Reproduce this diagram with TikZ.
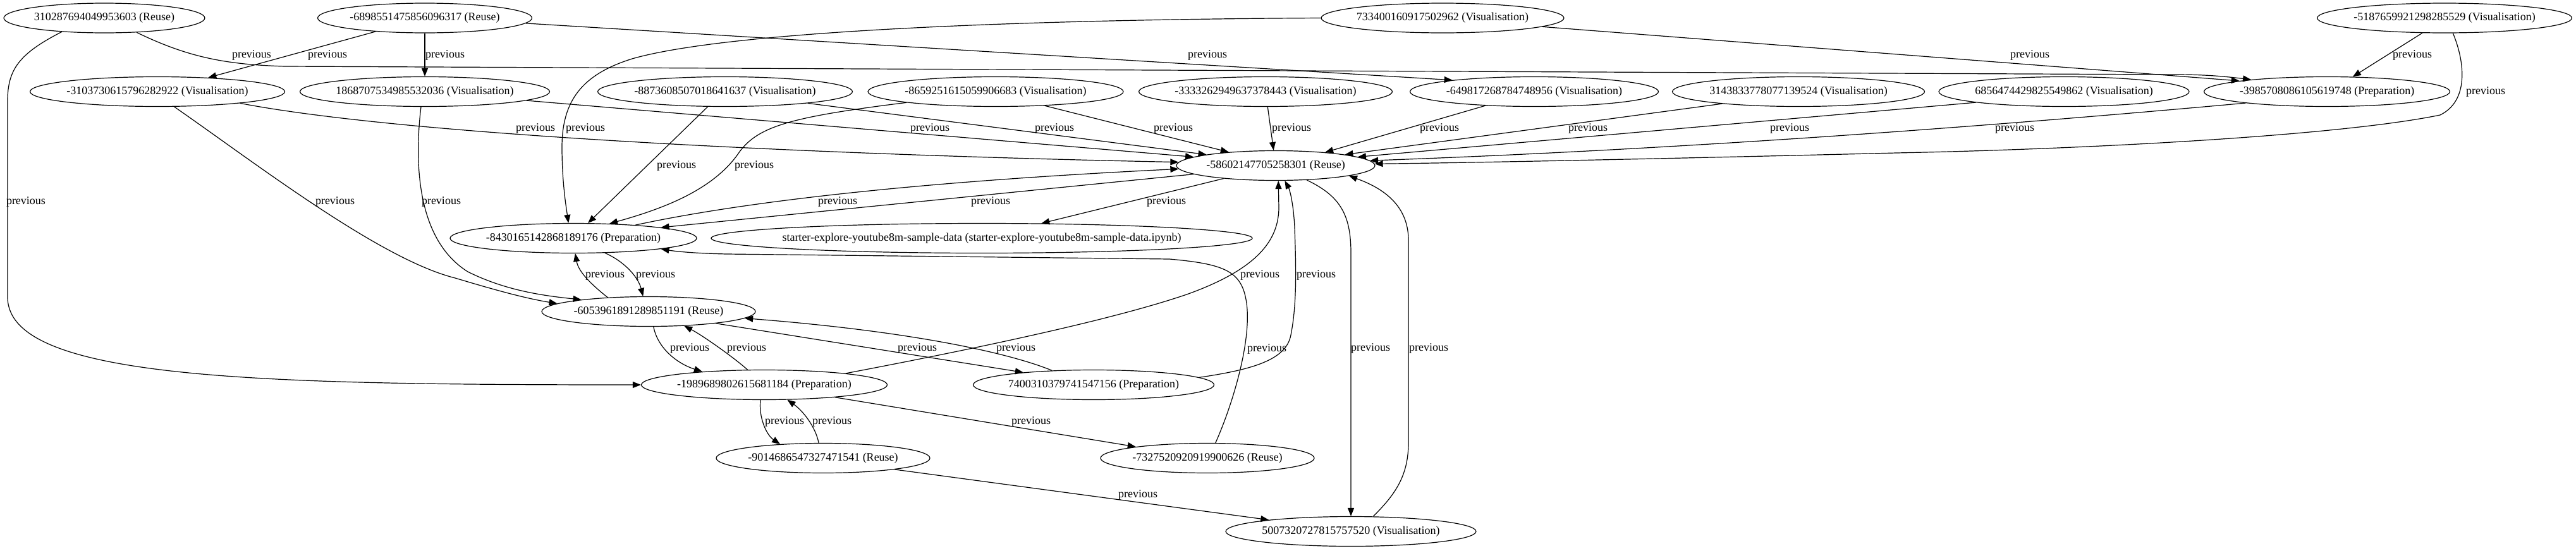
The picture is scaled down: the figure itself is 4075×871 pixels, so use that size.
\documentclass[tikz,border=0pt]{standalone}
\usepackage{fontspec}
\setmainfont{Liberation Serif}
\usetikzlibrary{shapes.geometric,arrows.meta}
\newcommand{\ntxt}[1]{\makebox[0pt]{#1}}
\begin{document}
\begin{tikzpicture}[x=1pt,y=-1pt,
  nd/.style={ellipse,draw,line width=1.2pt,minimum height=47pt,inner sep=0pt,font=\fontsize{18}{21}\selectfont},
  ed/.style={line width=1.2pt,-{Triangle[length=13pt,width=10pt]}},
  lb/.style={inner sep=0pt,font=\fontsize{18}{21}\selectfont}]
\useasboundingbox (0,0) rectangle (4075,871);
% nodes
\node[nd,minimum width=318pt] (N1) at (165,28.5) {\ntxt{310287694049953603 (Reuse)}};
\node[nd,minimum width=339pt] (N2) at (672,28.5) {\ntxt{-6898551475856096317 (Reuse)}};
\node[nd,minimum width=384pt] (T3) at (2282,28.5) {\ntxt{733400160917502962 (Visualisation)}};
\node[nd,minimum width=403pt] (N13) at (3867,28.5) {\ntxt{-5187659921298285529 (Visualisation)}};
\node[nd,minimum width=403pt] (N3) at (249,145) {\ntxt{-3103730615796282922 (Visualisation)}};
\node[nd,minimum width=395pt] (N4) at (672,145) {\ntxt{1868707534985532036 (Visualisation)}};
\node[nd,minimum width=403pt] (N6) at (1147,145) {\ntxt{-8873608507018641637 (Visualisation)}};
\node[nd,minimum width=404pt] (N7) at (1575,145) {\ntxt{-8659251615059906683 (Visualisation)}};
\node[nd,minimum width=401pt] (N8) at (2002,145) {\ntxt{-3333262949637378443 (Visualisation)}};
\node[nd,minimum width=393pt] (N9) at (2427,145) {\ntxt{-649817268784748956 (Visualisation)}};
\node[nd,minimum width=399pt] (N10) at (2845,145) {\ntxt{3143833778077139524 (Visualisation)}};
\node[nd,minimum width=396pt] (N11) at (3265,145) {\ntxt{6856474429825549862 (Visualisation)}};
\node[nd,minimum width=389pt] (N12) at (3681,145) {\ntxt{-3985708086105619748 (Preparation)}};
\node[nd,minimum width=314pt] (HUB) at (2018,262) {\ntxt{-58602147705258301 (Reuse)}};
\node[nd,minimum width=390pt] (N5) at (907,377) {\ntxt{-8430165142868189176 (Preparation)}};
\node[nd,minimum width=856pt] (ST) at (1553,377) {\ntxt{starter-explore-youtube8m-sample-data (starter-explore-youtube8m-sample-data.ipynb)}};
\node[nd,minimum width=338pt] (N14) at (1026,493) {\ntxt{-6053961891289851191 (Reuse)}};
\node[nd,minimum width=389pt] (N15) at (1209,609) {\ntxt{-1989689802615681184 (Preparation)}};
\node[nd,minimum width=381pt] (N16) at (1730,609) {\ntxt{7400310379741547156 (Preparation)}};
\node[nd,minimum width=338pt] (N17) at (1302,725) {\ntxt{-9014686547327471541 (Reuse)}};
\node[nd,minimum width=338pt] (N18) at (1910,725) {\ntxt{-7327520920919900626 (Reuse)}};
\node[nd,minimum width=396pt] (N19) at (2137,841) {\ntxt{5007320727815757520 (Visualisation)}};
% edges
\draw[ed] (N1.198) .. controls (30,85) and (12,110) .. (12,160) -- (12,470) .. controls (12,600) and (400,609) .. (N15.180);
\draw[ed] (N1.-24) .. controls (300,92) and (360,102) .. (450,105) -- (3440,118) .. controls (3490,118) and (3520,121) .. (N12.171);
\draw[ed] (N2) -- (N3);
\draw[ed] (N2) -- (N4);
\draw[ed] (N2.-3) -- (N9.172);
\draw[ed] (T3.180) .. controls (1600,31) and (1150,50) .. (1000,93) .. controls (920,118) and (889,160) .. (889,233) .. controls (889,290) and (896,330) .. (N5.108);
\draw[ed] (T3.-5) -- (N12.173);
\draw[ed] (N13.214) -- (N12.30);
\draw[ed] (N13.-61) .. controls (3900,100) and (3905,160) .. (3860,182) .. controls (3700,215) and (3300,236) .. (3000,242) .. controls (2600,252) and (2300,258) .. (HUB.1);
\draw[ed] (N3.-8) .. controls (650,215) and (1300,245) .. (HUB.178);
\draw[ed] (N3.-42) .. controls (400,255) and (600,410) .. (720,440) .. controls (780,458) and (830,472) .. (N14.175);
\draw[ed] (N4.256) .. controls (655,260) and (660,380) .. (740,430) .. controls (800,460) and (860,468) .. (N14.170);
\draw[ed] (N4.-5) -- (HUB.174);
\draw[ed] (N6.221) -- (N5.46);
\draw[ed] (N6.-8) -- (HUB.171);
\draw[ed] (N7.187) .. controls (1250,185) and (1200,200) .. (1170,240) .. controls (1130,300) and (1050,330) .. (N5.22);
\draw[ed] (N7.-16) -- (HUB.164);
\draw[ed] (N8) -- (HUB);
\draw[ed] (N9.196) -- (HUB.15);
\draw[ed] (N10.189) -- (HUB.9);
\draw[ed] (N11.187) -- (HUB.6);
\draw[ed] (N12.188) .. controls (3200,195) and (2700,235) .. (HUB.3);
\draw[ed] (HUB.186) -- (N5.7);
\draw[ed] (N5.12) .. controls (1150,325) and (1400,290) .. (HUB.182);
\draw[ed] (HUB.194) -- (ST.14);
\draw[ed] (N18.62) .. controls (1950,640) and (1980,540) .. (1972,480) .. controls (1965,430) and (1940,418) .. (1850,410) -- (1150,402) .. controls (1100,401) and (1070,398) .. (N5.-7);
\draw[ed] (N15.8) .. controls (1500,560) and (1750,510) .. (1880,465) .. controls (1990,425) and (2022,380) .. (2023,330) -- (HUB.-80);
\draw[ed] (N16.4) .. controls (1980,585) and (2035,570) .. (2042,530) .. controls (2052,480) and (2050,420) .. (2048,360) .. controls (2046,320) and (2040,300) .. (HUB.-59);
\draw[ed] (N14.161) .. controls (935,450) and (915,430) .. (N5.-83);
\draw[ed] (N5.-25) .. controls (990,415) and (1010,440) .. (N14.110);
\draw[ed] (N14.-72) .. controls (1040,550) and (1070,575) .. (N15.168);
\draw[ed] (N15.138) .. controls (1160,565) and (1110,530) .. (N14.-22);
\draw[ed] (N14.-10) -- (N16.170);
\draw[ed] (N16.161) .. controls (1600,560) and (1450,525) .. (N14.-4);
\draw[ed] (N15.-104) .. controls (1200,660) and (1212,688) .. (N17.162);
\draw[ed] (N17.106) .. controls (1290,675) and (1270,650) .. (N15.-33);
\draw[ed] (N15.-10) -- (N18.171);
\draw[ed] (N17.-9) -- (N19.172);
\draw[ed] (HUB.-25) .. controls (2120,310) and (2137,340) .. (2137,400) -- (N19.90);
\draw[ed] (N19.34) .. controls (2210,780) and (2228,750) .. (2228,700) -- (2228,380) .. controls (2228,320) and (2180,295) .. (HUB.-8);
% labels
\node[lb] (L1) at (398,87) {previous};
\node[lb] (L2) at (518,87) {previous};
\node[lb] (L3) at (704,87) {previous};
\node[lb] (L4) at (1910,87) {previous};
\node[lb] (L5) at (3211,87) {previous};
\node[lb] (L6) at (3816,87) {previous};
\node[lb] (L7) at (3932,145) {previous};
\node[lb] (L8) at (847,203) {previous};
\node[lb] (L9) at (926,203) {previous};
\node[lb] (L10) at (1471,203) {previous};
\node[lb] (L11) at (1668,203) {previous};
\node[lb] (L12) at (1856,203) {previous};
\node[lb] (L13) at (2043,203) {previous};
\node[lb] (L14) at (2277,203) {previous};
\node[lb] (L15) at (2512,203) {previous};
\node[lb] (L16) at (2831,203) {previous};
\node[lb] (L17) at (3187,203) {previous};
\node[lb] (L18) at (1070,262) {previous};
\node[lb] (L19) at (1193,262) {previous};
\node[lb] (L20) at (41,319) {previous};
\node[lb] (L21) at (530,319) {previous};
\node[lb] (L22) at (698,319) {previous};
\node[lb] (L23) at (1325,319) {previous};
\node[lb] (L24) at (1567,319) {previous};
\node[lb] (L25) at (1845,319) {previous};
\node[lb] (L26) at (957,435) {previous};
\node[lb] (L27) at (1037,435) {previous};
\node[lb] (L28) at (1993,435) {previous};
\node[lb] (L29) at (2082,435) {previous};
\node[lb] (L30) at (1091,551) {previous};
\node[lb] (L31) at (1181,551) {previous};
\node[lb] (L32) at (1451,551) {previous};
\node[lb] (L33) at (1607,551) {previous};
\node[lb] (L34) at (2004,552) {previous};
\node[lb] (L35) at (2168,551) {previous};
\node[lb] (L36) at (2260,551) {previous};
\node[lb] (L37) at (1241,667) {previous};
\node[lb] (L38) at (1316,667) {previous};
\node[lb] (L39) at (1631,667) {previous};
\node[lb] (L40) at (1800,783) {previous};
\end{tikzpicture}
\end{document}
